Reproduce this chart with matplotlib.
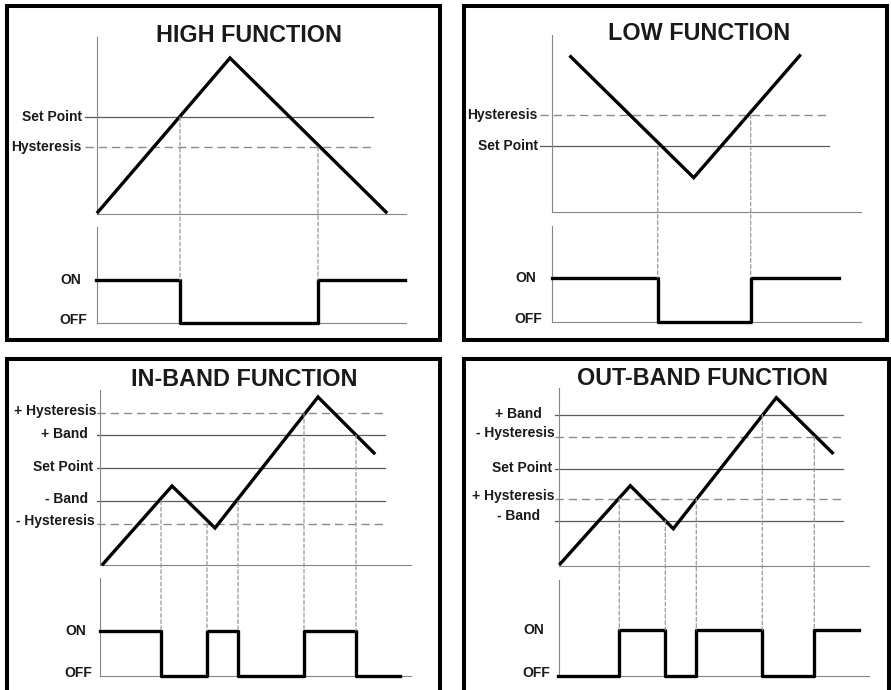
import matplotlib
matplotlib.use("Agg")
import matplotlib.pyplot as plt
from matplotlib.patches import Rectangle, ConnectionPatch
from matplotlib.transforms import offset_copy

plt.rcParams['font.family'] = ['Liberation Sans', 'DejaVu Sans']

# ---------------- data (time / value units) ----------------
TITLES = ["HIGH FUNCTION", "LOW FUNCTION", "IN-BAND FUNCTION", "OUT-BAND FUNCTION"]

# HIGH FUNCTION
HIGH_T = [1, 133, 289]
HIGH_V = [2, 156, 2]
HIGH_LEVEL_NAMES = ["Set Point", "Hysteresis"]
HIGH_LEVEL_VALUES = [97, 67]
HIGH_SWITCH_T = [83, 221]
HIGH_SWITCH_LEVEL = [97, 67]
HIGH_STATES = [1, 0, 1]
HIGH_OUT_SPAN = [-1, 308]

# LOW FUNCTION
LOW_T = [19, 142, 248]
LOW_V = [155, 34, 156]
LOW_LEVEL_NAMES = ["Hysteresis", "Set Point"]
LOW_LEVEL_VALUES = [97, 66]
LOW_SWITCH_T = [106, 199]
LOW_SWITCH_LEVEL = [66, 97]
LOW_STATES = [1, 0, 1]
LOW_OUT_SPAN = [0, 287]

# IN-BAND FUNCTION
INB_T = [3, 72, 115, 218, 274]
INB_V = [1, 79, 37, 168, 112]
INB_LEVEL_NAMES = ["+ Hysteresis", "+ Band", "Set Point", "- Band", "- Hysteresis"]
INB_LEVEL_VALUES = [152, 130, 97, 64, 41]
INB_SWITCH_T = [61, 107, 138, 204, 256]
INB_SWITCH_LEVEL = [64, 41, 64, 152, 130]
INB_STATES = [1, 0, 1, 0, 1, 0]
INB_OUT_SPAN = [0, 300]

# OUT-BAND FUNCTION
OUTB_T = [1, 71, 114, 217, 273]
OUTB_V = [2, 80, 37, 168, 113]
OUTB_LEVEL_NAMES = ["+ Band", "- Hysteresis", "Set Point", "+ Hysteresis", "- Band"]
OUTB_LEVEL_VALUES = [151, 129, 97, 67, 45]
OUTB_SWITCH_T = [60, 106, 137, 203, 255]
OUTB_SWITCH_LEVEL = [67, 45, 67, 151, 129]
OUTB_STATES = [0, 1, 0, 1, 0, 1]
OUTB_OUT_SPAN = [-1, 300]

DATA = [
    (HIGH_T, HIGH_V, HIGH_LEVEL_NAMES, HIGH_LEVEL_VALUES, HIGH_SWITCH_T, HIGH_SWITCH_LEVEL, HIGH_STATES, HIGH_OUT_SPAN),
    (LOW_T, LOW_V, LOW_LEVEL_NAMES, LOW_LEVEL_VALUES, LOW_SWITCH_T, LOW_SWITCH_LEVEL, LOW_STATES, LOW_OUT_SPAN),
    (INB_T, INB_V, INB_LEVEL_NAMES, INB_LEVEL_VALUES, INB_SWITCH_T, INB_SWITCH_LEVEL, INB_STATES, INB_OUT_SPAN),
    (OUTB_T, OUTB_V, OUTB_LEVEL_NAMES, OUTB_LEVEL_VALUES, OUTB_SWITCH_T, OUTB_SWITCH_LEVEL, OUTB_STATES, OUTB_OUT_SPAN),
]

# ---------------- layout (pixels, top-left origin) ----------------
W, H = 891, 690
LAYOUT = [
    dict(border=(7, 6, 440.3, 340.3), title=(249.5, 35), up=(97, 37, 406, 214), lo=(97, 226.7, 406, 323.3), on_y=280,
         line_x=(-12, 276), dashed=[False, True], lab_x=[-15, -15], lab_lift=[0, 0], on_x=-26, off_x=-23.5),
    dict(border=(463.7, 6, 887, 340.3), title=(698.8, 33), up=(551.7, 35, 861, 211.7), lo=(551.7, 226, 861, 321.7), on_y=277.7,
         line_x=(-12, 277), dashed=[True, False], lab_x=[-14, -14], lab_lift=[0, 0], on_x=-25.5, off_x=-23),
    dict(border=(7, 359.3, 440.3, 700), title=(244, 380), up=(100, 390, 410.7, 565), lo=(100, 578.3, 410.7, 676), on_y=630.7,
         line_x=(-3, 285), dashed=[True, False, False, False, True], lab_x=[-3.3, -11.7, -7.3, -11.7, -5],
         lab_lift=[2, 1, 1.3, 2, 2.7], on_x=-24.2, off_x=-22),
    dict(border=(463.7, 359.3, 888.5, 700), title=(702.8, 378.3), up=(559.3, 388.3, 869, 565.7), lo=(559.3, 580, 869, 676), on_y=630,
         line_x=(-4, 284), dashed=[False, True, False, True, False], lab_x=[-17.6, -5, -7.6, -5, -19.3],
         lab_lift=[1, 3.7, 0.3, 2.3, 4.3], on_x=-25.3, off_x=-23),
]

TEXT_C = "#1a1a1a"
SPINE_C = "#858585"
SOLID_C = "#5a5a5a"
DASH_C = "#8c8c8c"
DOT_C = "#9a9a9a"


def frect(x0, y0, x1, y1):
    return [x0 / W, 1 - y1 / H, (x1 - x0) / W, (y1 - y0) / H]


fig = plt.figure(figsize=(W / 100, H / 100), dpi=100)

for (t, v, names, levels, sw_t, sw_lvl, states, span), L, title in zip(DATA, LAYOUT, TITLES):
    # border
    bx0, by0, bx1, by1 = L["border"]
    fig.add_artist(Rectangle((bx0 / W, 1 - by1 / H), (bx1 - bx0) / W, (by1 - by0) / H,
                             transform=fig.transFigure, fill=False, lw=2.9, ec="black", clip_on=False))
    fig.text(L["title"][0] / W, 1 - L["title"][1] / H, title, ha="center", va="center",
             fontsize=16.8, fontweight="bold", color=TEXT_C)

    ux0, uy0, ux1, uy1 = L["up"]
    ax = fig.add_axes(frect(*L["up"]))
    ax.set_xlim(0, ux1 - ux0)
    ax.set_ylim(0, uy1 - uy0)
    ly0, ly1 = L["lo"][1], L["lo"][3]
    axl = fig.add_axes(frect(*L["lo"]))
    axl.set_xlim(0, ux1 - ux0)
    axl.set_ylim(0, (ly1 - ly0) / (ly1 - L["on_y"]))

    for a in (ax, axl):
        a.patch.set_visible(False)
        for s in ("top", "right"):
            a.spines[s].set_visible(False)
        for s in ("left", "bottom"):
            a.spines[s].set_color(SPINE_C)
            a.spines[s].set_linewidth(0.8)
        a.set_xticks([])
        a.set_yticks([])

    # reference levels
    for name, lv, dashed, lxr, lift in zip(names, levels, L["dashed"], L["lab_x"], L["lab_lift"]):
        if dashed:
            ax.plot(L["line_x"], [lv, lv], color=DASH_C, lw=1.0, dashes=(6, 3.5), clip_on=False, zorder=1)
        else:
            ax.plot(L["line_x"], [lv, lv], color=SOLID_C, lw=0.9, clip_on=False, zorder=1)
        ax.text(lxr, lv + lift, name, ha="right", va="center", fontsize=10, fontweight="bold",
                color=TEXT_C, clip_on=False)

    # input signal
    ax.plot(t, v, color="black", lw=2.4, solid_joinstyle="miter", clip_on=False, zorder=4)

    # output step
    xs = [span[0]] + list(sw_t) + [span[1]]
    ys = list(states) + [states[-1]]
    axl.step(xs, ys, where="post", color="black", lw=2.4, clip_on=False, zorder=4)

    # guide lines from switching levels down to the ON level
    for st, sl in zip(sw_t, sw_lvl):
        cp = ConnectionPatch(xyA=(st, sl), coordsA=ax.transData, xyB=(st, 1), coordsB=axl.transData,
                             color=DOT_C, lw=0.9, linestyle=(0, (3, 2)), zorder=1)
        fig.add_artist(cp)

    axl.text(L["on_x"], 1, "ON", ha="center", va="center", fontsize=10, fontweight="bold", color=TEXT_C)
    axl.text(L["off_x"], 0, "OFF", ha="center", va="center", fontsize=10, fontweight="bold", color=TEXT_C,
             transform=offset_copy(axl.transData, fig=fig, x=0, y=3, units="dots"))

fig.savefig("out.png", dpi=100)
